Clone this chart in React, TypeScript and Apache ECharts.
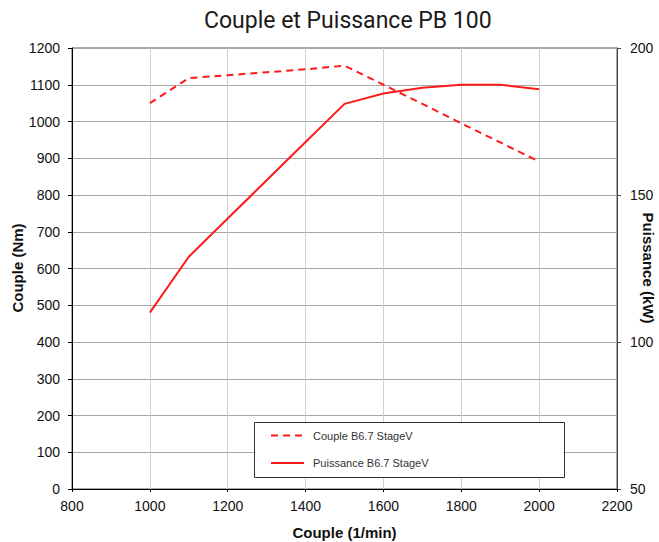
import React, { useEffect, useRef } from "react";
import * as echarts from "echarts";

const rpm = [1000, 1100, 1200, 1300, 1400, 1500, 1600, 1700, 1800, 1900, 2000];
const couple = [1050, 1118, 1126, 1134, 1142, 1152, 1100, 1048, 995, 943, 891];
const puissance = [110, 129, 142, 155, 168, 181, 184.5, 186.5, 187.5, 187.5, 186];

const titleText = "Couple et Puissance PB 100";
const xName = "Couple (1/min)";
const yLeftName = "Couple (Nm)";
const yRightName = "Puissance (kW)";
const seriesNames = ["Couple B6.7 StageV", "Puissance B6.7 StageV"];

const TITLEFONT = 'Roboto, "Liberation Sans", sans-serif';
const SANS = '"Liberation Sans", Arial, sans-serif';
const RED = "#ff1a1a";

export default function App() {
  const ref = useRef<HTMLDivElement>(null);
  useEffect(() => {
    if (!ref.current) return;
    const chart = echarts.init(ref.current, null, { renderer: "svg" });
    const legendText = { fontFamily: SANS, fontSize: 11, fill: "#333" };
    const nameStyle = { fontFamily: SANS, fontSize: 15, fontWeight: "bold", fill: "#111" };
    chart.setOption({
      animation: false,
      backgroundColor: "#ffffff",
      title: {
        text: titleText,
        left: 204,
        top: 9,
        padding: 0,
        textStyle: { fontFamily: TITLEFONT, fontSize: 23, fontWeight: "normal", color: "#1a1a1a" },
      },
      grid: {
        left: 72,
        right: 42,
        top: 48,
        bottom: 53,
        show: true,
        borderColor: "#555",
        borderWidth: 1,
        backgroundColor: "transparent",
        outerBoundsMode: "none",
        containLabel: false,
      },
      graphic: [
        {
          type: "text",
          x: 17,
          y: 268,
          rotation: Math.PI / 2,
          style: { ...nameStyle, text: yLeftName, align: "center", verticalAlign: "middle" },
        },
        {
          type: "text",
          x: 648,
          y: 268,
          rotation: -Math.PI / 2,
          style: { ...nameStyle, text: yRightName, align: "center", verticalAlign: "middle" },
        },
        {
          type: "rect",
          shape: { x: 254.5, y: 422.5, width: 310, height: 55 },
          style: { fill: "#fff", stroke: "#333", lineWidth: 1 },
          z: 10,
        },
        {
          type: "line",
          shape: { x1: 271, y1: 435.5, x2: 304, y2: 435.5 },
          style: { stroke: RED, lineWidth: 2, lineDash: [7, 5] },
          z: 11,
        },
        {
          type: "line",
          shape: { x1: 271, y1: 463, x2: 304, y2: 463 },
          style: { stroke: RED, lineWidth: 2 },
          z: 11,
        },
        {
          type: "text",
          x: 313,
          y: 435.5,
          style: { ...legendText, text: seriesNames[0], verticalAlign: "middle" },
          z: 11,
        },
        {
          type: "text",
          x: 313,
          y: 463,
          style: { ...legendText, text: seriesNames[1], verticalAlign: "middle" },
          z: 11,
        },
      ],
      xAxis: {
        type: "value",
        min: 800,
        max: 2200,
        interval: 200,
        name: xName,
        nameLocation: "middle",
        nameGap: 36,
        nameTextStyle: { fontFamily: SANS, fontSize: 15, fontWeight: "bold", color: "#111" },
        axisLine: { show: true, lineStyle: { color: "#000", width: 1 } },
        axisTick: { show: true, length: 3, lineStyle: { color: "#000" } },
        axisLabel: { fontFamily: SANS, fontSize: 14, color: "#111", margin: 10, formatter: (v: number) => String(v) },
        splitLine: { show: true, lineStyle: { color: "#d0d0d0", width: 1 } },
      },
      yAxis: [
        {
          type: "value",
          min: 0,
          max: 1200,
          interval: 100,
          axisLine: { show: true, lineStyle: { color: "#000", width: 1 } },
          axisTick: { show: true, length: 4, lineStyle: { color: "#000" } },
          axisLabel: { fontFamily: SANS, fontSize: 14, color: "#111", margin: 12, formatter: (v: number) => String(v) },
          splitLine: { show: true, lineStyle: { color: "#a8a8a8", width: 1 } },
        },
        {
          type: "value",
          min: 50,
          max: 200,
          interval: 50,
          position: "right",
          axisLine: { show: true, lineStyle: { color: "#444", width: 1 } },
          axisTick: { show: true, length: 4, lineStyle: { color: "#444" } },
          axisLabel: { fontFamily: SANS, fontSize: 14, color: "#111", margin: 13, formatter: (v: number) => String(v) },
          splitLine: { show: false },
        },
      ],
      series: [
        {
          name: seriesNames[0],
          type: "line",
          yAxisIndex: 0,
          symbol: "none",
          data: rpm.map((r, i) => [r, couple[i]]),
          lineStyle: { color: RED, width: 2, type: [7, 5] },
          itemStyle: { color: RED },
          z: 5,
        },
        {
          name: seriesNames[1],
          type: "line",
          yAxisIndex: 1,
          symbol: "none",
          data: rpm.map((r, i) => [r, puissance[i]]),
          lineStyle: { color: RED, width: 2, type: "solid" },
          itemStyle: { color: RED },
          z: 5,
        },
      ],
    });
    return () => chart.dispose();
  }, []);
  return (
    <div
      ref={ref}
      style={{ position: "fixed", left: 0, top: 0, width: 659, height: 542 }}
    />
  );
}
